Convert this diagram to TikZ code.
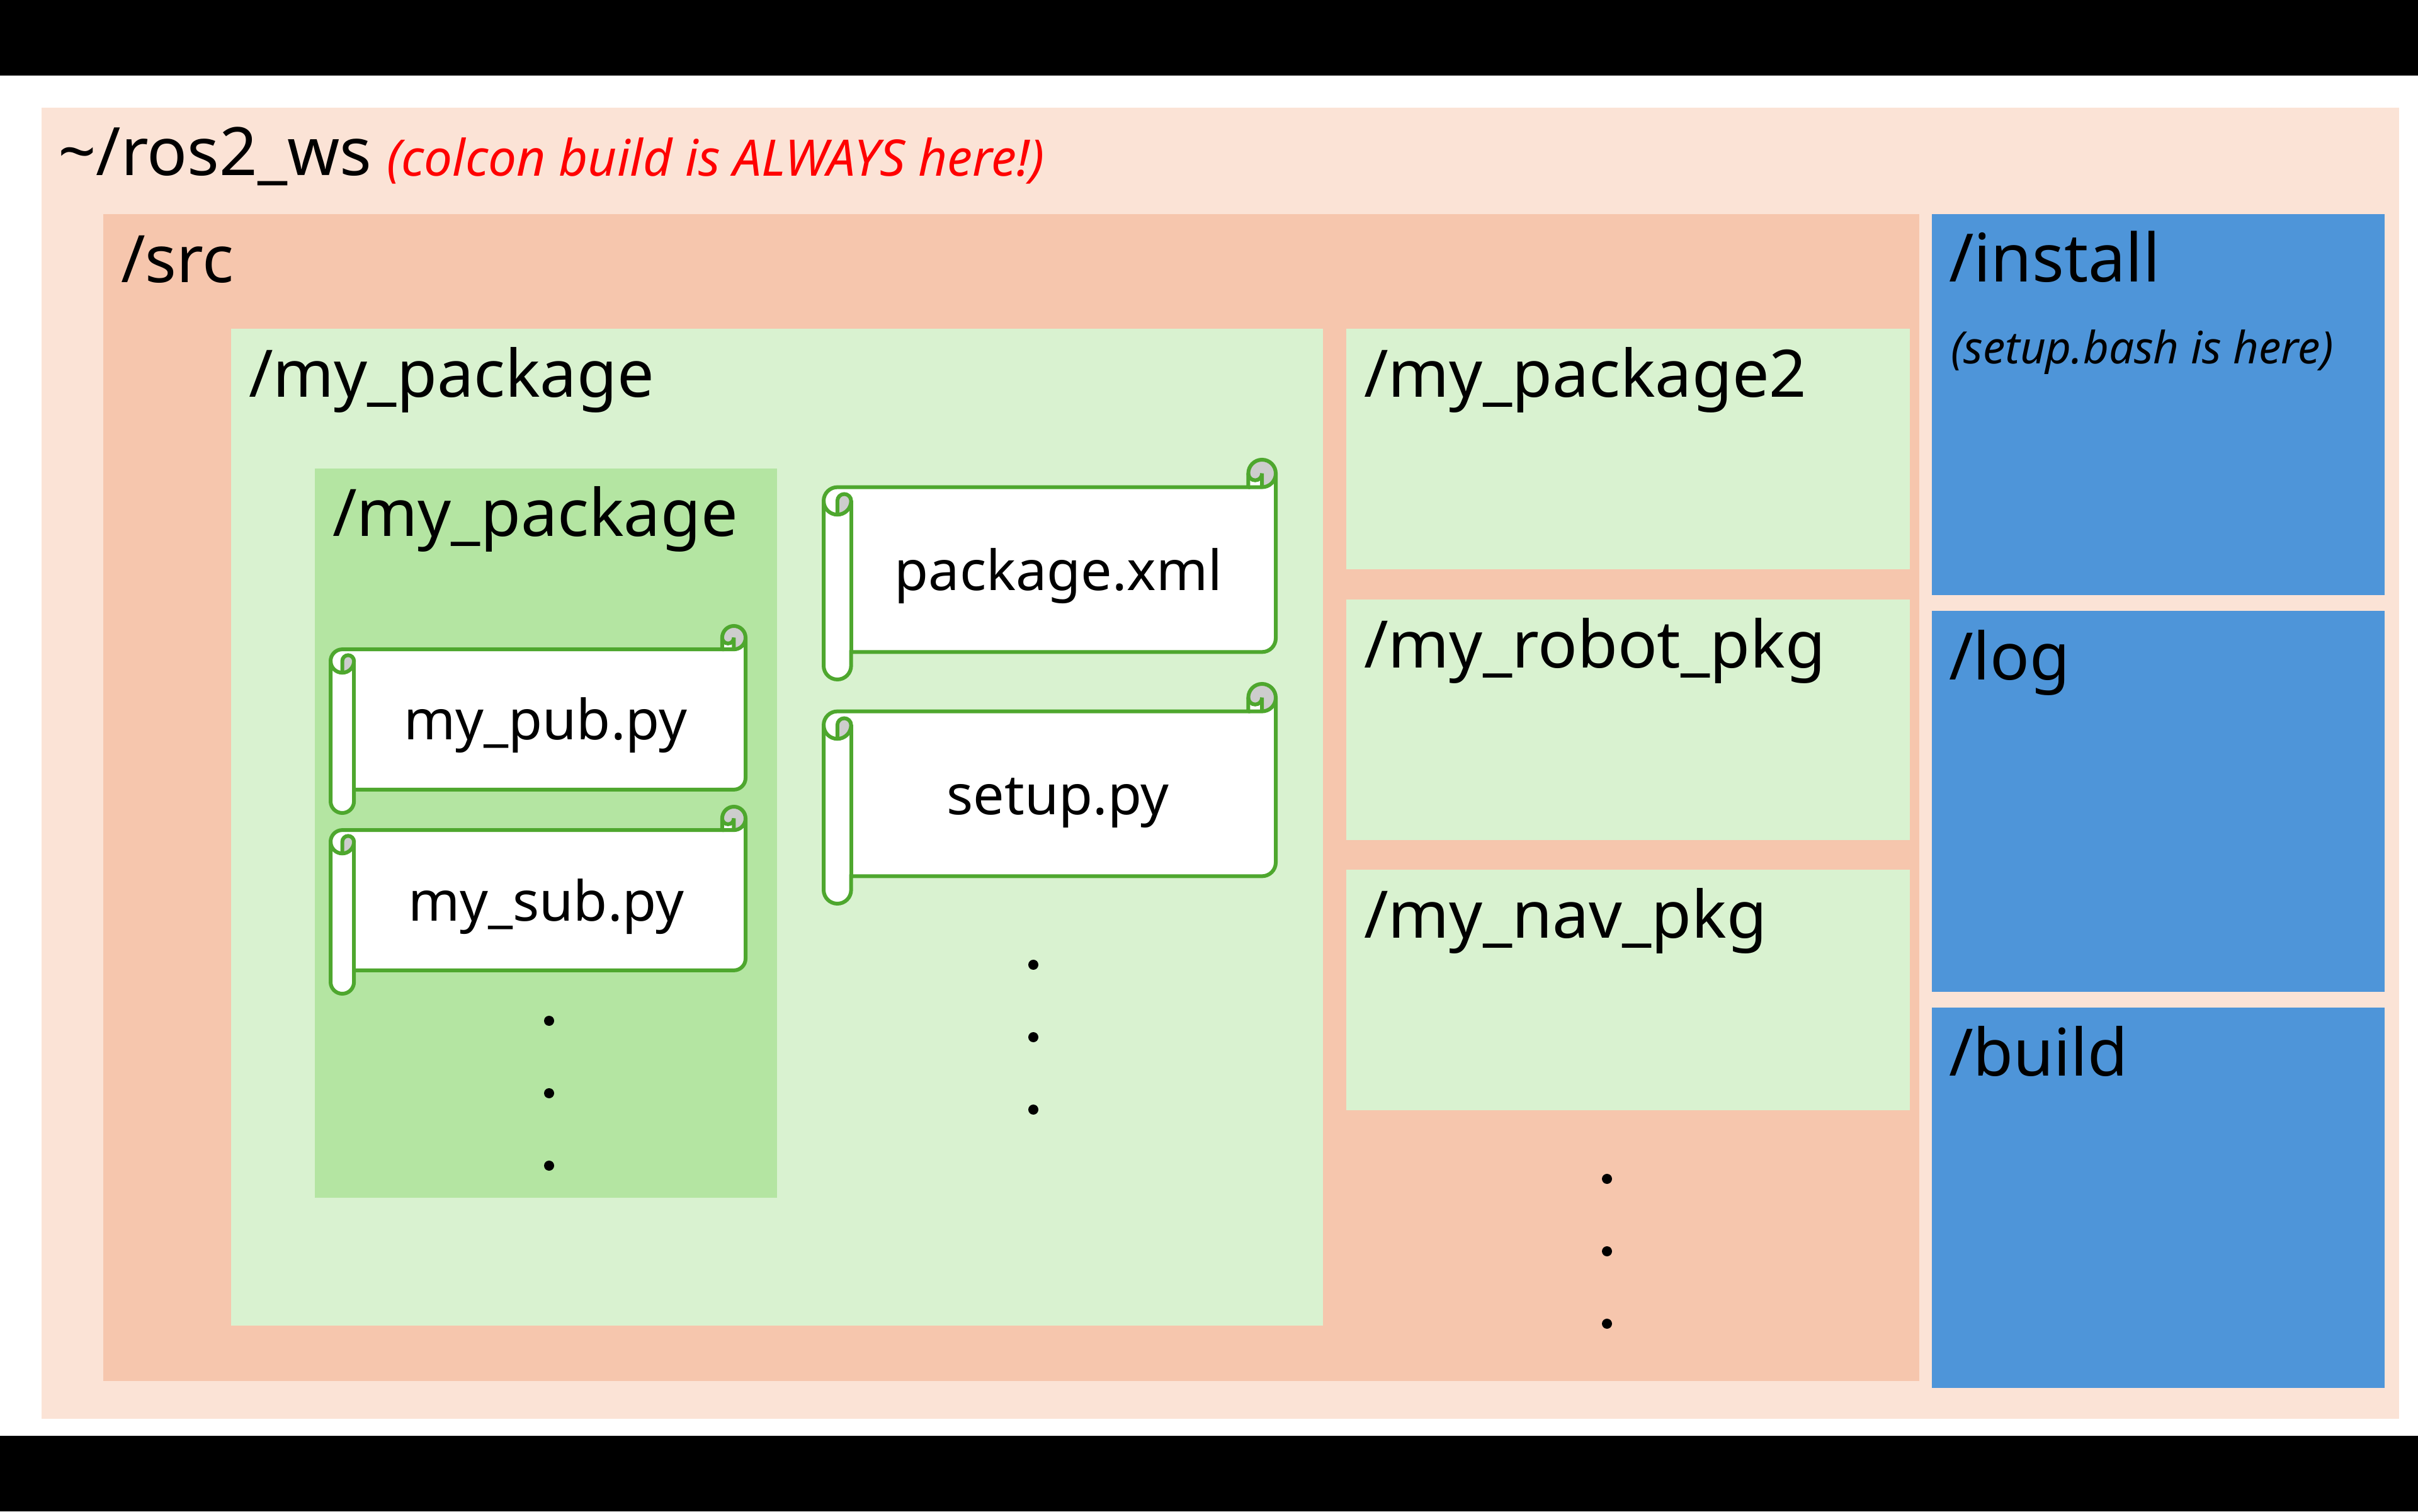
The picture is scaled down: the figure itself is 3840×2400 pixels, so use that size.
\documentclass[tikz,border=0pt]{standalone}
\usepackage{fontspec}
\setmainfont{Noto Sans}
\definecolor{wsbg}{HTML}{FBE3D6}
\definecolor{srcbg}{HTML}{F6C6AD}
\definecolor{pkgbg}{HTML}{D9F2D0}
\definecolor{innerbg}{HTML}{B4E5A2}
\definecolor{bluebg}{HTML}{4E95D9}
\definecolor{scrollgreen}{HTML}{4EA72E}
\definecolor{curlgray}{HTML}{CDCDCD}
\tikzset{
  lbl/.style={inner sep=0pt,outer sep=0pt,anchor=base west,text=black,font=\fontsize{26}{30}\selectfont},
  biglbl/.style={lbl,font=\fontsize{26.5}{30}\selectfont},
  filelbl/.style={inner sep=0pt,outer sep=0pt,anchor=base,text=black,font=\fontsize{22}{26}\selectfont},
  notelbl/.style={inner sep=0pt,outer sep=0pt,anchor=base west,font=\fontsize{20}{24}\selectfont\itshape},
  smallnote/.style={inner sep=0pt,outer sep=0pt,anchor=base west,font=\fontsize{17.7}{22}\selectfont\itshape},
  dotmark/.style={circle,fill=black,inner sep=0pt,outer sep=0pt,minimum size=4pt},
  scrollline/.style={draw=scrollgreen,line width=1.5pt}
}
% rectangle given in image pixels (y downwards)
\newcommand{\panel}[5]{%
  \pgfmathsetmacro\ya{2400-#2}\pgfmathsetmacro\yb{2400-#4}%
  \fill[#5] (#1,\ya) rectangle (#3,\yb);}
\newcommand{\txt}[5][lbl]{%
  \pgfmathsetmacro\ya{2400-#4}%
  \node[#1] (#2) at (#3,\ya) {#5};}
\newcommand{\dotm}[3]{%
  \pgfmathsetmacro\ya{2400-#3}%
  \node[dotmark] (#1) at (#2,\ya) {};}
% PowerPoint horizontal scroll: #1 x, #2 y, #3 w, #4 h
\newcommand{\scrollshape}[4]{%
  \pgfmathsetmacro\ya{2400-#2}%
  \pgfmathsetmacro\ch{#4*0.125}\pgfmathsetmacro\chb{\ch/2}\pgfmathsetmacro\chc{\ch/4}%
  \pgfmathsetmacro\yc{\ch+\chb}\pgfmathsetmacro\yd{2*\ch}%
  \pgfmathsetmacro\yf{#4-\ch}\pgfmathsetmacro\yg{#4-\chb}\pgfmathsetmacro\ye{\yf-\chb}%
  \pgfmathsetmacro\xc{#3-\ch}\pgfmathsetmacro\xd{#3-\chb}%
  \begin{scope}[shift={(#1,\ya)}]
    \fill[white] (0,-\yc) arc[start angle=180,end angle=90,radius=\chb] -- (\xc,-\ch) -- (\xc,-\chb)
      arc[start angle=180,end angle=0,radius=\chb] -- (#3,-\ye)
      arc[start angle=0,end angle=-90,radius=\chb] -- (\ch,-\yf) -- (\ch,-\yg)
      arc[start angle=0,end angle=-180,radius=\chb] -- cycle;
    \fill[curlgray] (\chb,-\yd) arc[start angle=-90,end angle=0,radius=\chb]
      arc[start angle=0,end angle=180,radius=\chc] -- cycle;
    \fill[curlgray] (\xd,-\ch) arc[start angle=-90,end angle=180,radius=\chb]
      arc[start angle=180,end angle=360,radius=\chc] -- cycle;
    \draw[scrollline] (0,-\yc) arc[start angle=180,end angle=90,radius=\chb] -- (\xc,-\ch) -- (\xc,-\chb)
      arc[start angle=180,end angle=0,radius=\chb] -- (#3,-\ye)
      arc[start angle=0,end angle=-90,radius=\chb] -- (\ch,-\yf) -- (\ch,-\yg)
      arc[start angle=0,end angle=-180,radius=\chb] -- cycle;
    \draw[scrollline] (\xc,-\ch) -- (\xd,-\ch) arc[start angle=-90,end angle=0,radius=\chb];
    \draw[scrollline] (\xd,-\ch) -- (\xd,-\chb) arc[start angle=0,end angle=-180,radius=\chc];
    \draw[scrollline] (\chb,-\yd) -- (\chb,-\yc) arc[start angle=180,end angle=0,radius=\chc]
      arc[start angle=0,end angle=-180,radius=\chb];
    \draw[scrollline] (\ch,-\yc) -- (\ch,-\yf);
  \end{scope}}
\begin{document}
\begin{tikzpicture}[x=0.25pt,y=0.25pt]
\useasboundingbox (0,0) rectangle (3840,2400);
\fill[white] (0,0) rectangle (3840,2400);
\panel{0}{0}{3840}{120}{black}
\panel{0}{2280}{3840}{2400}{black}
\panel{66}{171}{3810}{2253}{wsbg}
\panel{164}{340}{3048}{2193}{srcbg}
\panel{367}{522}{2101}{2105}{pkgbg}
\panel{500}{744}{1234}{1902}{innerbg}
\panel{2138}{522}{3033}{904}{pkgbg}
\panel{2138}{952}{3033}{1334}{pkgbg}
\panel{2138}{1381}{3033}{1763}{pkgbg}
\panel{3068}{340}{3787}{945}{bluebg}
\panel{3068}{970}{3787}{1575}{bluebg}
\panel{3068}{1600}{3787}{2204}{bluebg}
\scrollshape{1308}{730}{718}{349}
\scrollshape{1308}{1086}{718}{349}
\scrollshape{525}{994}{659}{297}
\scrollshape{525}{1281}{659}{297}
\txt[biglbl]{ws}{92}{279}{\textasciitilde/ros2\_ws}
\txt[notelbl,text=red]{wsnote}{614}{280}{(colcon build is ALWAYS here!)}
\txt{src}{192}{449}{/src}
\txt{pkgouter}{395}{631}{/my\_package}
\txt{pkginner}{528}{852}{/my\_package}
\txt{pkgtwo}{2166}{631}{/my\_package2}
\txt{robot}{2166}{1061}{/my\_robot\_pkg}
\txt{nav}{2166}{1490}{/my\_nav\_pkg}
\txt[biglbl]{install}{3095}{448}{/install}
\txt[smallnote,text=black]{installnote}{3098}{578}{(setup.bash is here)}
\txt{log}{3095}{1080}{/log}
\txt{build}{3095}{1708}{/build}
\txt[filelbl]{pkgxml}{1681}{938}{package.xml}
\txt[filelbl]{setup}{1680}{1294}{setup.py}
\txt[filelbl]{pub}{866}{1175}{my\_pub.py}
\txt[filelbl]{sub}{867}{1463}{my\_sub.py}
\dotm{ia}{872}{1621}\dotm{ib}{872}{1736}\dotm{ic}{872}{1851}
\dotm{ma}{1641}{1532}\dotm{mb}{1641}{1647}\dotm{mc}{1641}{1762}
\dotm{ra}{2552}{1872}\dotm{rb}{2552}{1987}\dotm{rc}{2552}{2102}
\end{tikzpicture}
\end{document}
